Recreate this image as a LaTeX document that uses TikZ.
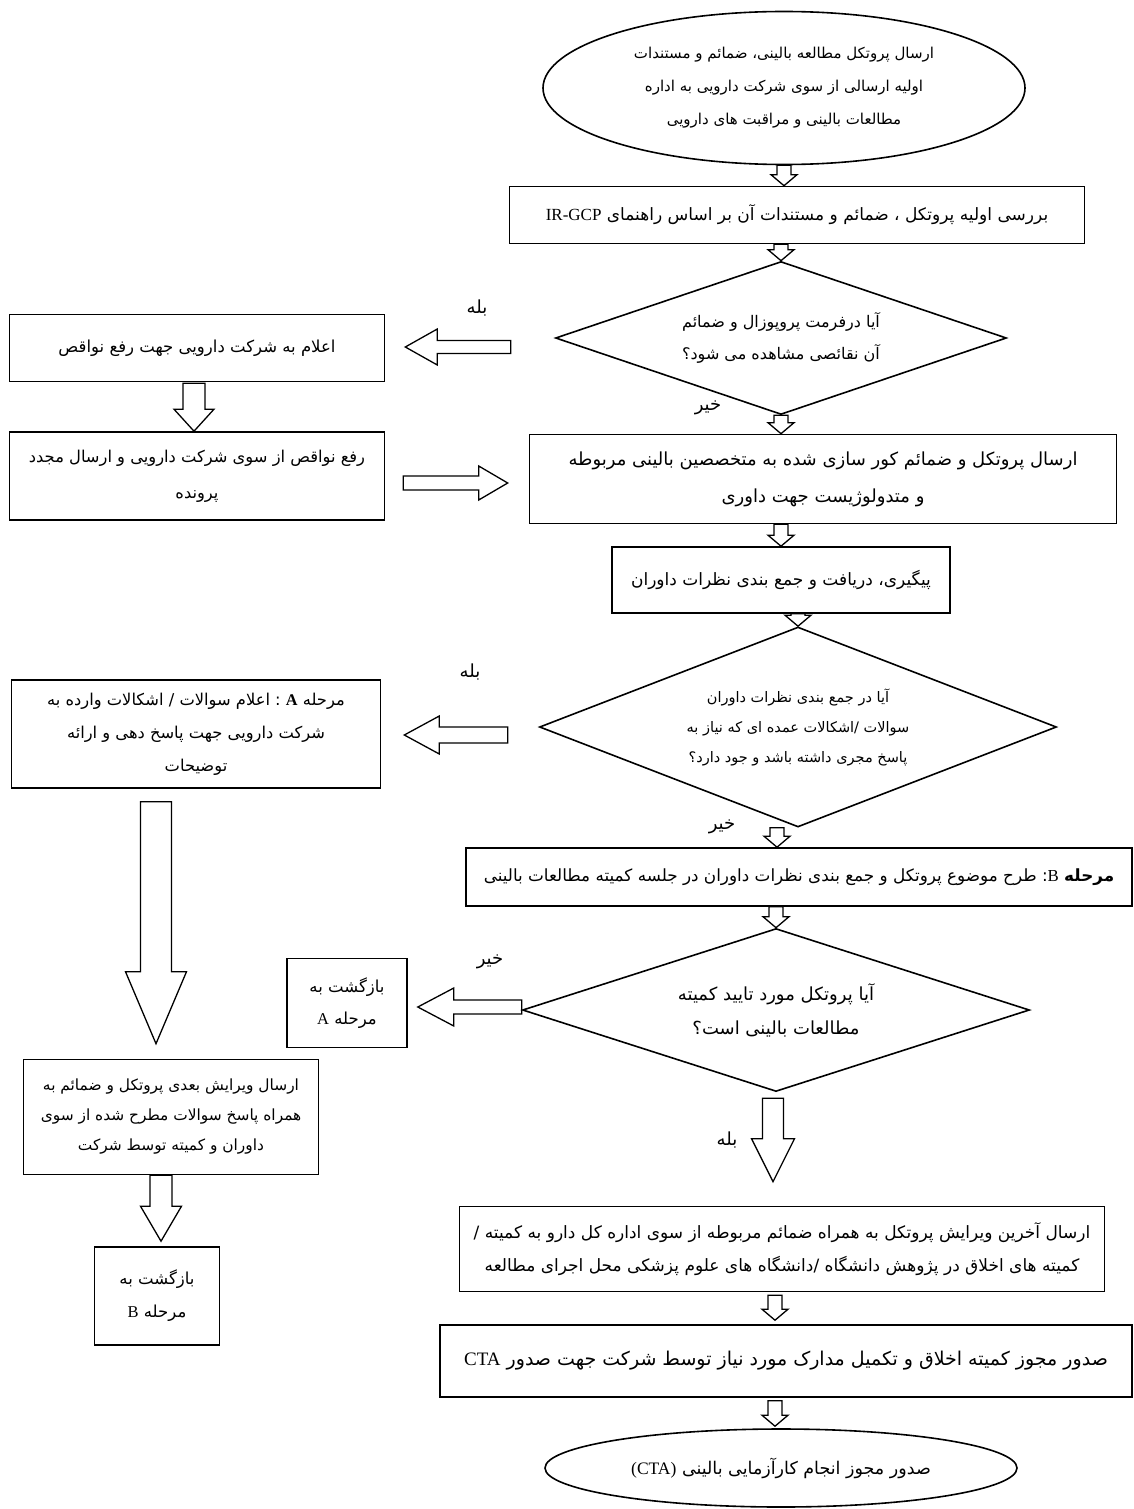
\documentclass[tikz,border=0pt]{standalone}
\usepackage{fontspec}
\usetikzlibrary{shapes.geometric,calc}
\TeXXeTstate=1
\newfontfamily\arabicfont[Script=Arabic]{DejaVu Sans}
\newfontfamily\latinfont{Liberation Serif}
\newcommand{\fa}[1]{\beginR #1\endR}
\newcommand{\lat}[1]{\beginL{\latinfont #1}\endL}

\tikzset{
  shaftw/.store in=\shaftw, headw/.store in=\headw, headl/.store in=\headl,
  shaftw=7pt, headw=13pt, headl=11pt,
  % hollow block arrow between two points
  fat/.style={line width=1.3pt, to path={
      let \p1=($(\tikztotarget)!\headl!(\tikztostart)$) in
      ($(\tikztostart)!\shaftw!90:(\tikztotarget)$)
      -- ($(\p1)!\shaftw!90:(\tikztotarget)$)
      -- ($(\p1)!\headw!90:(\tikztotarget)$)
      -- (\tikztotarget)
      -- ($(\p1)!\headw!-90:(\tikztotarget)$)
      -- ($(\p1)!\shaftw!-90:(\tikztotarget)$)
      -- ($(\tikztostart)!\shaftw!-90:(\tikztotarget)$) -- cycle}},
  txt/.style 2 args={font=\arabicfont\fontsize{#1}{#2}\selectfont},
  box/.style={draw, line width=1.6pt, align=center, inner sep=0pt},
  dec/.style={diamond, draw, line width=1.6pt, align=center, inner sep=0pt, aspect=2.5},
  term/.style={ellipse, draw, line width=1.6pt, align=center, inner sep=0pt},
  lbl/.style={txt={18}{20}}
}

\begin{document}
\begin{tikzpicture}[x=1pt, y=-1pt]
	\useasboundingbox (0,0) rectangle (1134,1509);

	% main column
	\node[term, minimum width=482, minimum height=153, txt={15}{33}] (start) at (784,88)
		{\fa{ارسال پروتکل مطالعه بالینی، ضمائم و مستندات}\\
		 \fa{اولیه ارسالی از سوی شرکت دارویی به اداره}\\
		 \fa{مطالعات بالینی و مراقبت های دارویی}};
	\node[box, minimum width=575, minimum height=57, txt={17}{20}] (b2) at (797,215)
		{\fa{بررسی اولیه پروتکل ، ضمائم و مستندات آن بر اساس راهنمای \lat{IR-GCP}}};
	\node[dec, minimum width=451, minimum height=153, txt={16}{32}] (d1) at (781,338)
		{\fa{آیا درفرمت پروپوزال و ضمائم}\\ \fa{آن نقائصی مشاهده می شود؟}};
	\node[box, minimum width=587, minimum height=89, txt={18}{37}] (b3) at (823,479)
		{\fa{ارسال پروتکل و ضمائم کور سازی شده به متخصصین بالینی مربوطه}\\
		 \fa{و متدولوژیست جهت داوری}};
	\node[box, minimum width=338, minimum height=66, txt={17}{20}] (b4) at (781,580)
		{\fa{پیگیری، دریافت و جمع بندی نظرات داوران}};
	\node[dec, minimum width=517, minimum height=200, txt={14.5}{30}] (d2) at (798,727)
		{\fa{آیا در جمع بندی نظرات داوران}\\
		 \fa{سوالات /اشکالات عمده ای که نیاز به}\\
		 \fa{پاسخ مجری داشته باشد و جود دارد؟}};
	\node[box, minimum width=666, minimum height=58, txt={16.8}{20}] (b5) at (799,877)
		{\fa{\textbf{مرحله} \lat{B}: طرح موضوع پروتکل و جمع بندی نظرات داوران در جلسه کمیته مطالعات بالینی}};
	\node[dec, minimum width=507, minimum height=163, txt={18}{34}] (d3) at (776,1010)
		{\fa{آیا پروتکل مورد تایید کمیته}\\ \fa{مطالعات بالینی است؟}};
	\node[box, minimum width=645, minimum height=85, txt={17}{33}] (b6) at (782,1249)
		{\fa{ارسال آخرین ویرایش پروتکل به همراه ضمائم مربوطه از سوی اداره کل دارو به کمیته /}\\
		 \fa{کمیته های اخلاق در پژوهش دانشگاه /دانشگاه های علوم پزشکی محل اجرای مطالعه}};
	\node[box, minimum width=692, minimum height=72, txt={19}{20}] (b7) at (786,1361)
		{\fa{صدور مجوز کمیته اخلاق و تکمیل مدارک مورد نیاز توسط شرکت جهت صدور \lat{CTA}}};
	\node[term, minimum width=472, minimum height=78, txt={17.5}{20}] (end) at (781,1468)
		{\fa{صدور مجوز انجام کارآزمایی بالینی \lat{(CTA)}}};

	% left column
	\node[box, minimum width=375, minimum height=67, txt={16.5}{20}] (l1) at (197,348)
		{\fa{اعلام به شرکت دارویی جهت رفع نواقص}};
	\node[box, minimum width=375, minimum height=88, txt={16.3}{36}] (l2) at (197,476)
		{\fa{رفع نواقص از سوی شرکت دارویی و ارسال مجدد}\\ \fa{پرونده}};
	\node[box, minimum width=369, minimum height=108, txt={16.3}{33}] (l3) at (196,734)
		{\fa{مرحله \lat{\textbf{A}} : اعلام سوالات / اشکالات وارده به}\\
		 \fa{شرکت دارویی جهت پاسخ دهی و ارائه}\\ \fa{توضیحات}};
	\node[box, minimum width=120, minimum height=89, txt={16.5}{32}] (ra) at (347,1003)
		{\fa{بازگشت به}\\ \fa{مرحله \lat{A}}};
	\node[box, minimum width=295, minimum height=115, txt={15.4}{30}] (l4) at (171,1117)
		{\fa{ارسال ویرایش بعدی  پروتکل و ضمائم به}\\
		 \fa{همراه پاسخ سوالات مطرح شده از سوی}\\
		 \fa{داوران و کمیته توسط شرکت}};
	\node[box, minimum width=125, minimum height=98, txt={16.5}{33}] (l5) at (157,1296)
		{\fa{بازگشت به}\\ \fa{مرحله \lat{B}}};

	% yes / no
	\node[lbl] (y1) at (477,308) {\fa{بله}};
	\node[lbl] (n1) at (708,408) {\fa{خیر}};
	\node[lbl] (y2) at (470,672) {\fa{بله}};
	\node[lbl] (n2) at (722,827) {\fa{خیر}};
	\node[lbl] (n3) at (490,962) {\fa{خیر}};
	\node[lbl] (y3) at (727,1140) {\fa{بله}};

	% small arrows down the middle
	\draw[fat] (start.south) to (start.south |- b2.north);
	\draw[fat] (d1.north |- b2.south) to (d1.north);
	\draw[fat] (d1.south) to (d1.south |- b3.north);
	\draw[fat] (b4.north |- b3.south) to (b4.north);
	\draw[fat] (d2.north |- b4.south) to (d2.north);
	\draw[fat] ($(d2.south)+(-21,0)$) to ($(d2.south |- b5.north)+(-21,0)$);
	\draw[fat] (d3.north |- b5.south) to (d3.north);
	\draw[fat, shaftw=10.5pt, headw=21.5pt, headl=43pt] ($(d3.south)+(-3,6)$) to ($(d3.south |- b6.north)+(-3,-24)$);
	\draw[fat] ($(b6.south)+(-7,3)$) to ($(b6.south |- b7.north)+(-7,-4)$);
	\draw[fat] ($(b7.south)+(-11,3)$) to ($(b7.south |- end.north)+(-11,-2)$);

	% arrows on the left
	\draw[fat, shaftw=6.5pt, headw=18pt, headl=32pt] ($(d1.west |- l1.east)+(-44,-1)$) to ($(l1.east)+(20,-1)$);
	\draw[fat, shaftw=11pt, headw=20pt, headl=22pt] ($(l1.south)+(-3,1)$) to ($(l2.north)+(-3,0)$);
	\draw[fat, shaftw=7pt, headw=17pt, headl=29pt] ($(l2.east)+(18,7)$) to ($(b3.west |- l2.east)+(-21,7)$);
	\draw[fat, shaftw=8pt, headw=19pt, headl=35pt] ($(d2.west |- l3.east)+(-31,1)$) to ($(l3.east)+(23,1)$);
	\draw[fat, shaftw=15.5pt, headw=30.5pt, headl=72pt] ($(l3.south)+(-40,13)$) to ($(l3.south |- l4.north)+(-40,-15)$);
	\draw[fat, shaftw=7pt, headw=19pt, headl=36pt] ($(d3.west |- ra.east)+(0,4)$) to ($(ra.east)+(10,4)$);
	\draw[fat, shaftw=11pt, headw=20.5pt, headl=35pt] ($(l4.south)+(-10,0)$) to ($(l4.south |- l5.north)+(-10,-5)$);
\end{tikzpicture}
\end{document}
